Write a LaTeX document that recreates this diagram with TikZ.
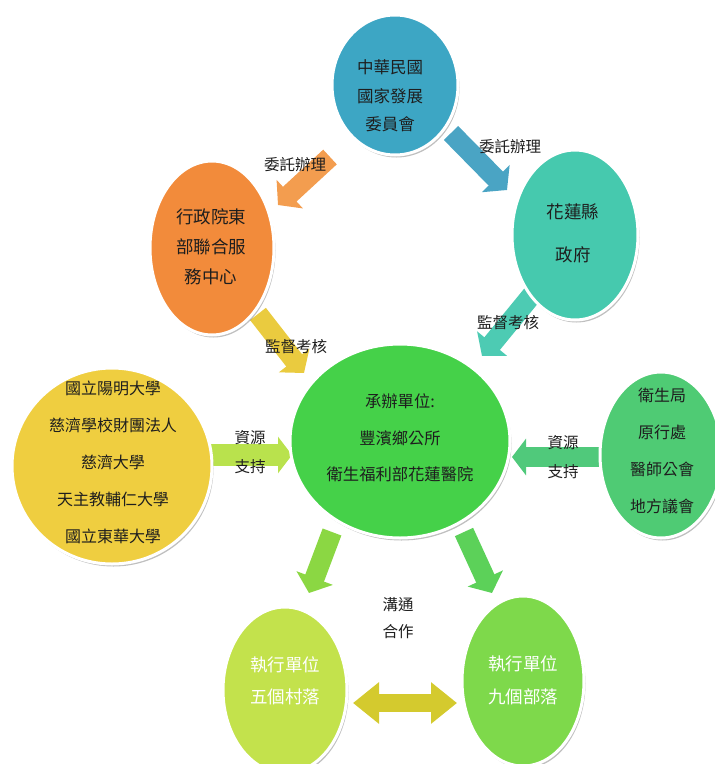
\documentclass[tikz,border=0pt]{standalone}
\usepackage{fontspec}
\newfontfamily\cjk{Noto Sans CJK TC}
\usetikzlibrary{shapes.geometric,arrows.meta,shadows,backgrounds}
\definecolor{cBlue}{HTML}{3DA6C4}
\definecolor{cOrange}{HTML}{F28B3B}
\definecolor{cTeal}{HTML}{46C9AE}
\definecolor{cYellow}{HTML}{EFCE40}
\definecolor{cCenter}{HTML}{45D149}
\definecolor{cRight}{HTML}{4FCB74}
\definecolor{cBL}{HTML}{C3E24C}
\definecolor{cBR}{HTML}{7ED94B}
\definecolor{aBlue}{HTML}{4AA4C4}
\definecolor{aOrange}{HTML}{F39D4F}
\definecolor{aYellow}{HTML}{EACB3F}
\definecolor{aTeal}{HTML}{4DCBB3}
\definecolor{aLeft}{HTML}{B9E24D}
\definecolor{aRight}{HTML}{50C97B}
\definecolor{aDL}{HTML}{8BD743}
\definecolor{aDR}{HTML}{5CD159}
\definecolor{aDouble}{HTML}{D4CA2E}
\definecolor{txtc}{HTML}{1E1E1E}
\begin{document}
\begin{tikzpicture}[x=1pt,y=-1pt,
  bub/.style={ellipse, draw=white, line width=3pt, inner sep=0pt,
    drop shadow={shadow xshift=1.5pt,shadow yshift=-2.5pt,opacity=0.25,fill=black}},
  ctext/.style={align=center, text=txtc, inner sep=0pt},
  lbl/.style={align=center, text=txtc, inner sep=0pt, font=\cjk\fontsize{15.5}{29}\selectfont},
  blk/.style={line width=20pt, -{Triangle[width=38pt,length=16pt]}},
  blkd/.style={line width=18pt, {Triangle[width=40pt,length=26pt]}-{Triangle[width=40pt,length=26pt]}}
]
\useasboundingbox (0,0) rectangle (715,764);

% circles
\node[bub, fill=cBlue, minimum width=126pt, minimum height=140pt] (ndc) at (395,85) {};
\node[bub, fill=cOrange, minimum width=124pt, minimum height=174pt] (east) at (212,248) {};
\node[bub, fill=cTeal, minimum width=126pt, minimum height=170pt] (gov) at (575,235) {};
\node[bub, fill=cYellow, minimum width=200pt, minimum height=196pt] (univ) at (112,466) {};
\node[bub, fill=cCenter, minimum width=220pt, minimum height=194pt] (host) at (400,441) {};
\node[bub, fill=cRight, minimum width=122pt, minimum height=166pt] (local) at (661,455) {};
\node[bub, fill=cBL, minimum width=124pt, minimum height=166pt] (vill) at (285,690) {};
\node[bub, fill=cBR, minimum width=122pt, minimum height=170pt] (trib) at (523,681) {};

% circle texts
\node[ctext, font=\cjk\fontsize{16.5}{28.5}\selectfont] (ndcT) at (390,96) {中華民國\\國家發展\\委員會};
\node[ctext, font=\cjk\fontsize{17.5}{30}\selectfont] (eastT) at (211,247) {行政院東\\部聯合服\\務中心};
\node[ctext, font=\cjk\fontsize{17.5}{43}\selectfont] (govT) at (573,233) {花蓮縣\\政府};
\node[ctext, font=\cjk\fontsize{16}{37}\selectfont] (univT) at (113,462) {國立陽明大學\\慈濟學校財團法人\\慈濟大學\\天主教輔仁大學\\國立東華大學};
\node[ctext, font=\cjk\fontsize{16.3}{36.5}\selectfont] (hostT) at (400,438) {承辦單位:\\豐濱鄉公所\\衛生福利部花蓮醫院};
\node[ctext, font=\cjk\fontsize{16}{37}\selectfont] (localT) at (662,451) {衛生局\\原行處\\醫師公會\\地方議會};
\node[ctext, text=white, font=\cjk\fontsize{17.5}{32}\selectfont] (villT) at (285,681) {執行單位\\五個村落};
\node[ctext, text=white, font=\cjk\fontsize{17.5}{33}\selectfont] (tribT) at (523,680) {執行單位\\九個部落};

% arrow end points
\coordinate (a1s) at (451,133); \coordinate (a1e) at (507,190);
\coordinate (a2s) at (330,157); \coordinate (a2e) at (278,205);
\coordinate (a3s) at (258,314); \coordinate (a3e) at (304,373);
\coordinate (a4s) at (536,290); \coordinate (a4e) at (482,356);
\coordinate (a5s) at (210,455); \coordinate (a5e) at (292,455);
\coordinate (a6s) at (604,457); \coordinate (a6e) at (512,457);
\coordinate (a7s) at (332,532); \coordinate (a7e) at (309,593);
\coordinate (a8s) at (464,532); \coordinate (a8e) at (492,593);
\coordinate (a9s) at (353,703); \coordinate (a9e) at (457,703);

\begin{scope}[on background layer]
\draw[blk, aBlue] (a1s) -- (a1e);
\draw[blk, aOrange] (a2s) -- (a2e);
\draw[blk, aYellow] (a3s) -- (a3e);
\draw[blk, aTeal] (a4s) -- (a4e);
\draw[blk, aLeft, line width=22pt, -{Triangle[width=36pt,length=14pt]}] (a5s) -- (a5e);
\draw[blk, aRight, -{Triangle[width=36pt,length=14pt]}] (a6s) -- (a6e);
\draw[blk, aDL] (a7s) -- (a7e);
\draw[blk, aDR] (a8s) -- (a8e);
\draw[blkd, aDouble] (a9s) -- (a9e);
\end{scope}

% labels
\node[lbl] (l1) at (295,165) {委託辦理};
\node[lbl] (l2) at (510,147) {委託辦理};
\node[lbl] (l3) at (508,323) {監督考核};
\node[lbl] (l4) at (296,347) {監督考核};
\node[lbl] (l5) at (250,452) {資源\\支持};
\node[lbl] (l6) at (563,457) {資源\\支持};
\node[lbl, font=\cjk\fontsize{15.5}{27}\selectfont] (l7) at (398,618) {溝通\\合作};
\end{tikzpicture}
\end{document}
